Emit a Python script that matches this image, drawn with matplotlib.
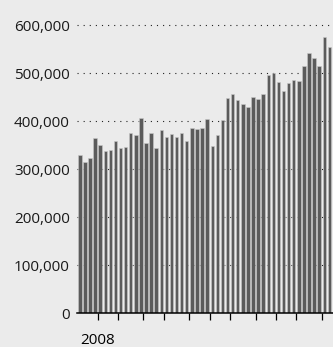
import matplotlib
matplotlib.use("Agg")
import matplotlib.pyplot as plt
from matplotlib.ticker import FuncFormatter

# Weekly values
values = [330, 315, 323, 365, 350, 339, 341, 359, 344, 346,
          375, 371, 406, 355, 375, 345, 382, 368, 373, 368,
          375, 359, 385, 383, 387, 404, 348, 372, 403, 449,
          457, 444, 435, 429, 451, 446, 457, 496, 500, 481,
          464, 479, 486, 484, 516, 543, 531, 516, 575, 555]
values = [v * 1000 for v in values]

# month boundaries, in bar units
month_ticks = [3.5, 7.5, 12.5, 16.5, 21.5, 25.5, 29.5, 34.5, 38.5, 42.5, 47.5]
month_labels = ["2008"] + [""] * (len(month_ticks) - 1)
y_ticks = [0, 100000, 200000, 300000, 400000, 500000, 600000]

bg = "#ebebeb"
plt.rcParams["font.family"] = ["Open Sans", "DejaVu Sans"]

fig = plt.figure(figsize=(3.33, 3.47), dpi=100, facecolor=bg)
ax = fig.add_axes([0.2327, 0.0971, 0.7680, 0.8715])
ax.set_facecolor(bg)

x = list(range(len(values)))
ax.bar(x, values, width=0.68, color="#5b5b5b", edgecolor="#c8c8c8",
       linewidth=0.4, zorder=2)

ax.set_xlim(-0.45, 49.75)
ax.set_ylim(0, 630000)

ax.set_yticks(y_ticks)
ax.yaxis.set_major_formatter(FuncFormatter(lambda v, p: f"{int(v):,}"))
ax.tick_params(axis="y", length=0, pad=5.5, labelsize=11, colors="#1a1a1a")
ax.yaxis.grid(True, color="#222222", linestyle=(0, (1, 4.5)), linewidth=0.8, zorder=1)
ax.set_axisbelow(True)

ax.set_xticks(month_ticks)
ax.set_xticklabels(month_labels)
ax.tick_params(axis="x", length=5, width=0.9, direction="out", pad=9,
               labelsize=11, colors="black")

for s in ["top", "right", "left"]:
    ax.spines[s].set_visible(False)
ax.spines["bottom"].set_linewidth(1.1)
ax.spines["bottom"].set_zorder(3)

fig.savefig("out.png", dpi=100, facecolor=bg)
